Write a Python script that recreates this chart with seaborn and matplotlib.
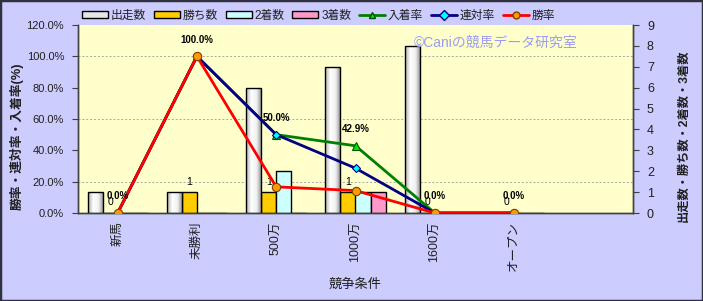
import numpy as np
import pandas as pd
import matplotlib
matplotlib.use("Agg")
import matplotlib.pyplot as plt
import seaborn as sns
from matplotlib.patches import Patch, Rectangle
from matplotlib.lines import Line2D
from matplotlib.colors import LinearSegmentedColormap

# ---- data ----
categories = ['新馬', '未勝利', '500万', '1000万', '1600万', 'オープン']
slot_order = categories + ['']
starts = [1, 1, 6, 7, 8, 0]        # 出走数
wins = [0, 1, 1, 1, 0, 0]          # 勝ち数
seconds = [0, 0, 2, 1, 0, 0]       # 2着数
thirds = [0, 0, 0, 1, 0, 0]        # 3着数
place_rate = [0.0, 100.0, 50.0, 42.9, 0.0, 0.0]   # 入着率
rentai_rate = [0.0, 100.0, 50.0, 28.6, 0.0, 0.0]  # 連対率
win_rate = [0.0, 100.0, 16.7, 14.3, 0.0, 0.0]     # 勝率

bar_series = ['出走数', '勝ち数', '2着数', '3着数']
bar_colors = ['#E6E6E6', '#FFCC00', '#CCFFFF', '#FF99CC']

sns.set_theme(style='white')
plt.rcParams['font.family'] = ['Liberation Sans', 'Noto Sans CJK JP', 'DejaVu Sans']

fig = plt.figure(figsize=(7.03, 3.01), dpi=100)
fig.patch.set_facecolor('#CCCCFF')
ax = fig.add_axes([78/703, 1-213/301, 555/703, 188/301])
axb = ax.twinx()
ax.set_zorder(axb.get_zorder() + 1)
ax.patch.set_visible(False)
axb.patch.set_visible(True)
axb.patch.set_facecolor('#FFFFCC')

# ---- bars (right axis) ----
df = pd.DataFrame({
    'cat': categories * 4,
    'series': sum([[s] * len(categories) for s in bar_series], []),
    'value': starts + wins + seconds + thirds,
})
sns.barplot(data=df, x='cat', y='value', hue='series', order=slot_order,
            hue_order=bar_series, palette=bar_colors, width=0.76,
            edgecolor='black', linewidth=1.0, saturation=1, legend=False,
            ax=axb, zorder=3)

# cylinder-like gradient for 出走数 bars
grad_cmap = LinearSegmentedColormap.from_list(
    'cyl', ['#B0B0B0', '#FFFFFF', '#F0F0F0', '#8C8C8C'])
grad = np.linspace(0, 1, 64).reshape(1, -1)
for p in axb.containers[0]:
    x, w, h = p.get_x(), p.get_width(), p.get_height()
    if h <= 0:
        continue
    im = axb.imshow(grad, cmap=grad_cmap, extent=[x, x + w, 0, h],
                    aspect='auto', zorder=3.1, origin='lower')
    im.set_clip_path(p)
    p.set_zorder(3.2)
    p.set_facecolor('none')

axb.bar_label(axb.containers[1], fmt='%d', padding=4, fontsize=7.5,
              color='black')

axb.set_xlim(-0.5, 6.5)
axb.set_ylim(0, 9)
axb.set_yticks(range(0, 10))
axb.set_yticks(np.arange(0, 9.01, 1.5), minor=True)
axb.set_xticks(np.arange(0.5, 6.5, 1.0), minor=True)
axb.grid(False)
axb.grid(which='minor', axis='both', color='#A8A8A8', linestyle=(0, (2, 2)),
         linewidth=0.7, zorder=0)
axb.set_axisbelow(True)
axb.tick_params(axis='both', which='minor', length=0)
axb.tick_params(axis='y', which='major', right=True, length=4, width=0.8,
                color='#404040', labelsize=9, labelcolor='#202020', pad=6)
axb.set_ylabel('出走数・勝ち数・2着数・3着数', rotation=90, fontsize=8.8,
               fontweight='bold', color='#202020')
axb.yaxis.set_label_position('right')
axb.yaxis.set_label_coords(1.081, 0.41)
axb.set_xlabel('')

# ---- lines (left axis) ----
line_specs = [
    ('入着率', place_rate, '#008000', '^', '#00EE00', '#005000'),
    ('連対率', rentai_rate, '#000080', 'D', '#00FFFF', '#000080'),
    ('勝率', win_rate, '#FF0000', 'o', '#FF9900', '#804000'),
]
for name, vals, lc, mk, mfc, mec in line_specs:
    sns.pointplot(x=categories, y=vals, order=slot_order, color=lc,
                  markers=mk, linestyles='-', errorbar=None, ax=ax)
    ln = ax.lines[-1]
    ln.set_linewidth(2.0)
    ln.set_markerfacecolor(mfc)
    ln.set_markeredgecolor(mec)
    ln.set_markersize(6 if mk != 'D' else 4.5)
    ln.set_markeredgewidth(0.8)
    ln.set_zorder(5)

for i, v in enumerate(place_rate):
    ax.annotate(f'{v:.1f}%', (i, v), xytext=(0, 12), textcoords='offset points',
                ha='center', va='center', fontsize=7, fontweight='bold',
                color='black', zorder=6)

ax.set_xlim(-0.5, 6.5)
ax.set_ylim(0, 120)
ax.set_yticks(np.arange(0, 121, 20))
ax.set_yticklabels([f'{t:.1f}%' for t in np.arange(0, 121, 20)])
ax.grid(False)
ax.tick_params(axis='y', left=True, length=4, width=0.8, color='#404040',
               labelsize=8, labelcolor='#202020', pad=6)
ax.set_xticks(range(len(slot_order)))
ax.set_xticklabels(slot_order, rotation=90, fontsize=9, color='#202020')
ax.tick_params(axis='x', length=0, pad=6)
ax.set_ylabel('勝率・連対率・入着率(%)', fontsize=9.2, fontweight='bold',
              color='#202020')
ax.yaxis.set_label_coords(-0.097, 0.41)
ax.set_xlabel('競争条件', fontsize=9.5, color='#202020', labelpad=5)

for a in (ax, axb):
    a.spines['top'].set_visible(False)
    for s in ('left', 'right', 'bottom'):
        a.spines[s].set_color('#404040')
        a.spines[s].set_linewidth(1.0)

ax.text(0.752, 0.905, '©Caniの競馬データ研究室', transform=ax.transAxes,
        ha='center', va='center', fontsize=10, color='#9C9CF0', zorder=7)

# ---- legend ----
handles = [Patch(facecolor=c, edgecolor='black', linewidth=1.0)
           for c in bar_colors]
handles += [Line2D([], [], color=lc, linewidth=2, marker=mk, markersize=5,
                   markerfacecolor=mfc, markeredgecolor=mec)
            for _, _, lc, mk, mfc, mec in line_specs]
labels = bar_series + [s[0] for s in line_specs]
fig.legend(handles, labels, loc='center left', bbox_to_anchor=(82/703, 1-16/301),
           ncol=7, frameon=False, fontsize=8.5, handlelength=2.2,
           handleheight=0.5, handletextpad=0.25, columnspacing=0.65,
           labelcolor='#202020', borderaxespad=0, borderpad=0)

# figure border (shadow on right and bottom)
fig.patches.append(Rectangle((0, 0), 1, 1, transform=fig.transFigure,
                             fill=False, edgecolor='#303040', linewidth=2.5))

fig.savefig('out.png', dpi=100, facecolor=fig.get_facecolor())
